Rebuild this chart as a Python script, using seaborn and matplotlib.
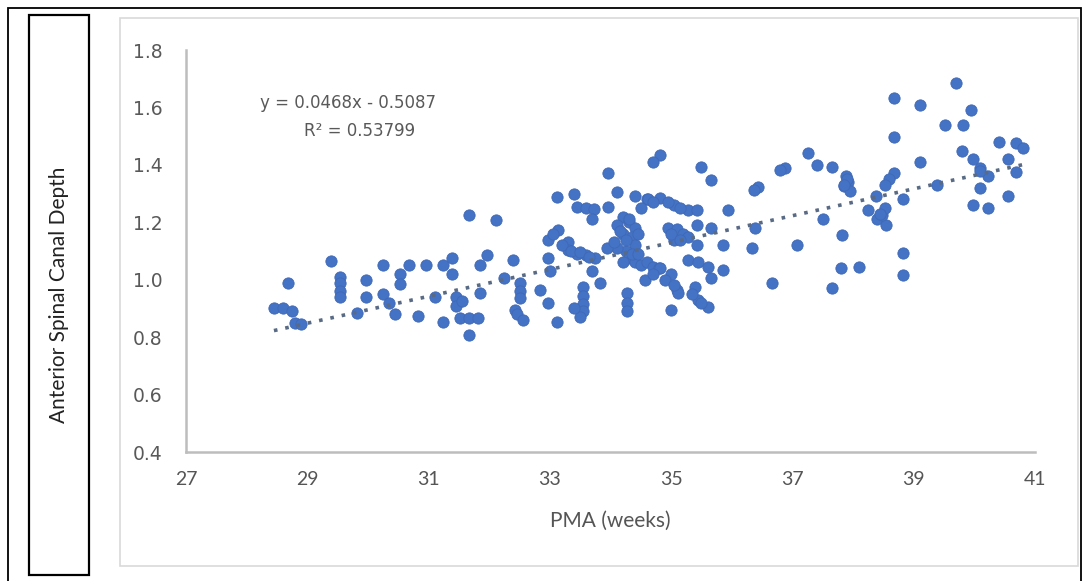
import numpy as np
import pandas as pd
import matplotlib
matplotlib.use("Agg")
import matplotlib.pyplot as plt
from matplotlib.patches import Rectangle
import seaborn as sns

# PMA (weeks) and anterior spinal canal depth per measurement
pma = [
    28.45, 28.60, 28.75, 28.69, 28.80, 28.90,
    29.39, 29.54, 29.54, 29.54, 29.54, 29.82, 29.97, 29.97, 30.25, 30.25,
    30.35, 30.45, 30.53, 30.53, 30.68, 30.83, 30.96, 31.10, 31.24, 31.24,
    31.39, 31.39, 31.45, 31.45, 31.55, 31.52, 31.67, 31.82, 31.67, 31.85,
    31.97, 31.84, 31.67, 32.12, 32.25, 32.40, 32.43, 32.45,
    32.50, 32.50, 32.50, 32.84, 32.97, 32.56, 33.12, 33.54, 33.54, 33.54,
    33.54, 33.50, 33.39, 33.83, 34.28, 34.28, 34.28,
    32.97, 33.14, 33.30, 33.30, 33.45, 33.60, 33.75, 32.97, 33.00, 33.70,
    33.12, 33.39, 33.45, 33.60, 33.72, 33.70, 33.96, 33.96, 34.10, 34.40, 34.60,
    34.20, 34.30, 34.40, 34.20, 34.35, 34.40, 34.25, 34.10, 33.95, 34.05,
    34.30, 34.40, 34.50, 34.10, 34.60, 34.70, 34.80,
    34.82, 34.70, 35.50, 35.65, 36.44, 36.36, 34.62, 34.82, 35.04, 35.27,
    35.43, 34.50, 35.94, 34.94, 35.10, 35.20, 35.05, 35.27, 35.43, 35.65,
    36.39, 35.43, 35.85, 36.34, 35.27, 35.45, 35.60, 35.85, 35.65, 34.57,
    34.82, 34.99, 35.10, 35.12, 35.40, 35.45, 35.60, 34.99, 36.67,
    33.05, 33.20, 33.35, 33.50, 33.65,
    34.15, 34.25, 34.35, 34.20, 34.45, 34.30, 34.45,
    34.70, 34.95, 35.15, 35.00, 35.15,
    34.70, 34.90, 35.05, 35.50, 35.35,
    38.67, 38.67, 36.88, 36.80, 37.25, 37.41, 37.66, 37.88, 37.92, 37.85,
    37.95, 38.67, 38.60, 38.53, 38.82, 38.37, 38.24, 38.40, 38.55, 38.47,
    38.53, 37.51, 37.82, 37.08, 37.80, 38.09, 37.66, 38.82, 38.82,
    37.90, 37.85, 38.45,
    39.69, 39.11, 39.94, 39.52, 39.82, 40.40, 40.68, 40.80, 39.11, 39.80,
    39.97, 40.10, 40.23, 40.55, 40.68, 39.39, 40.10, 39.97, 40.23, 40.55,
    40.10,
]
depth = [
    0.900, 0.900, 0.890, 0.990, 0.850, 0.845,
    1.065, 1.010, 0.990, 0.960, 0.940, 0.885, 1.000, 0.940, 1.050, 0.950,
    0.920, 0.880, 1.020, 0.985, 1.050, 0.875, 1.050, 0.940, 1.050, 0.853,
    1.075, 1.020, 0.940, 0.910, 0.925, 0.867, 0.867, 0.867, 0.808, 1.050,
    1.086, 0.954, 1.226, 1.208, 1.006, 1.070, 0.895, 0.880,
    0.990, 0.960, 0.935, 0.964, 0.920, 0.860, 0.853, 0.975, 0.945, 0.915,
    0.890, 0.870, 0.900, 0.990, 0.955, 0.920, 0.890,
    1.140, 1.173, 1.130, 1.105, 1.090, 1.085, 1.075, 1.075, 1.030, 1.030,
    1.289, 1.300, 1.253, 1.250, 1.245, 1.210, 1.372, 1.253, 1.306, 1.290, 1.280,
    1.220, 1.200, 1.180, 1.160, 1.150, 1.120, 1.100, 1.110, 1.110, 1.130,
    1.075, 1.060, 1.050, 1.190, 1.060, 1.045, 1.040,
    1.435, 1.410, 1.393, 1.348, 1.323, 1.313, 1.280, 1.285, 1.260, 1.243,
    1.243, 1.250, 1.243, 1.180, 1.175, 1.160, 1.140, 1.150, 1.190, 1.180,
    1.180, 1.120, 1.120, 1.110, 1.070, 1.060, 1.045, 1.034, 1.006, 1.000,
    1.040, 1.020, 0.964, 0.954, 0.975, 0.930, 0.905, 0.895, 0.990,
    1.160, 1.120, 1.100, 1.095, 1.080,
    1.170, 1.140, 1.090, 1.060, 1.090, 1.210, 1.160,
    1.270, 1.270, 1.250, 1.160, 1.140,
    1.020, 1.000, 0.980, 0.920, 0.950,
    1.633, 1.498, 1.390, 1.383, 1.440, 1.400, 1.393, 1.360, 1.340, 1.325,
    1.310, 1.372, 1.350, 1.330, 1.280, 1.290, 1.243, 1.210, 1.190, 1.225,
    1.250, 1.210, 1.156, 1.120, 1.040, 1.045, 0.970, 1.093, 1.017,
    1.350, 1.330, 1.230,
    1.686, 1.609, 1.590, 1.540, 1.540, 1.480, 1.476, 1.460, 1.410, 1.450,
    1.420, 1.390, 1.360, 1.420, 1.376, 1.330, 1.320, 1.260, 1.250, 1.290,
    1.380,
]

# Linear trend reported on the chart
slope, intercept, r_squared = 0.0468, -0.5087, 0.53799

x_ticks = [27, 29, 31, 33, 35, 37, 39, 41]
y_ticks = [0.4, 0.6, 0.8, 1.0, 1.2, 1.4, 1.6, 1.8]

df = pd.DataFrame({"PMA": pma, "Depth": depth})

sns.set_theme(style="white")
plt.rcParams["font.family"] = ["Lato", "DejaVu Sans"]

fig = plt.figure(figsize=(10.89, 5.81), dpi=100)
W, H = 1089, 581

def fx(px):
    return px / W

def fy(py):
    return 1 - py / H

# outer frame and the boxed y-axis title
fig.patches.append(Rectangle((fx(8), fy(585)), fx(1073), 577 / H, transform=fig.transFigure,
                             fill=False, edgecolor="black", linewidth=1.3))
fig.patches.append(Rectangle((fx(29), fy(575)), fx(60), 560 / H, transform=fig.transFigure,
                             fill=False, edgecolor="black", linewidth=1.6))
# light border of the chart area
fig.patches.append(Rectangle((fx(120), fy(566)), fx(958), 548 / H, transform=fig.transFigure,
                             fill=False, edgecolor="#d9d9d9", linewidth=1.2))

fig.text(fx(59), fy(295), "Anterior Spinal Canal Depth", rotation=90, ha="center", va="center",
         fontsize=15, color="#222222", family=["Lato", "DejaVu Sans"])

ax = fig.add_axes([fx(186), fy(452), fx(1035 - 186), (452 - 50) / H])

sns.scatterplot(data=df, x="PMA", y="Depth", ax=ax, color="#4472C4", s=66,
                edgecolor="#3f69b5", linewidth=0.6, zorder=3)

xs = np.array([min(pma), max(pma)])
ax.plot(xs, slope * xs + intercept, linestyle=(0, (1, 2.2)), color="#596a85",
        linewidth=2.6, dash_capstyle="butt", zorder=4)

ax.set_xlim(27, 41)
ax.set_ylim(0.4, 1.8)
ax.set_xticks(x_ticks)
ax.set_yticks(y_ticks)
ax.set_xticklabels([str(v) for v in x_ticks], fontsize=14, color="#555555",
                   family=["Lato", "DejaVu Sans"])
ax.set_yticklabels([f"{v:.1f}" for v in y_ticks], fontsize=13.5, color="#595959",
                   family=["DejaVu Sans"])
ax.tick_params(axis="x", length=0, pad=14)
ax.tick_params(axis="y", length=0, pad=17)
ax.set_xlabel("PMA (weeks)", fontsize=15, color="#555555", labelpad=16)
ax.set_ylabel("")

for side in ("top", "right"):
    ax.spines[side].set_visible(False)
for side in ("left", "bottom"):
    ax.spines[side].set_color("#bdbdbd")
    ax.spines[side].set_linewidth(1.8)
ax.set_facecolor("white")
ax.patch.set_alpha(0)

eq_style = dict(fontsize=12, color="#595959", family=["DejaVu Sans"], ha="center", va="center",
                transform=fig.transFigure)
fig.text(fx(348), fy(103), f"y = {slope}x - {abs(intercept)}", **eq_style)
fig.text(fx(360), fy(131), f"R² = {r_squared}", **eq_style)

fig.savefig("out.png", dpi=100, facecolor="white")
